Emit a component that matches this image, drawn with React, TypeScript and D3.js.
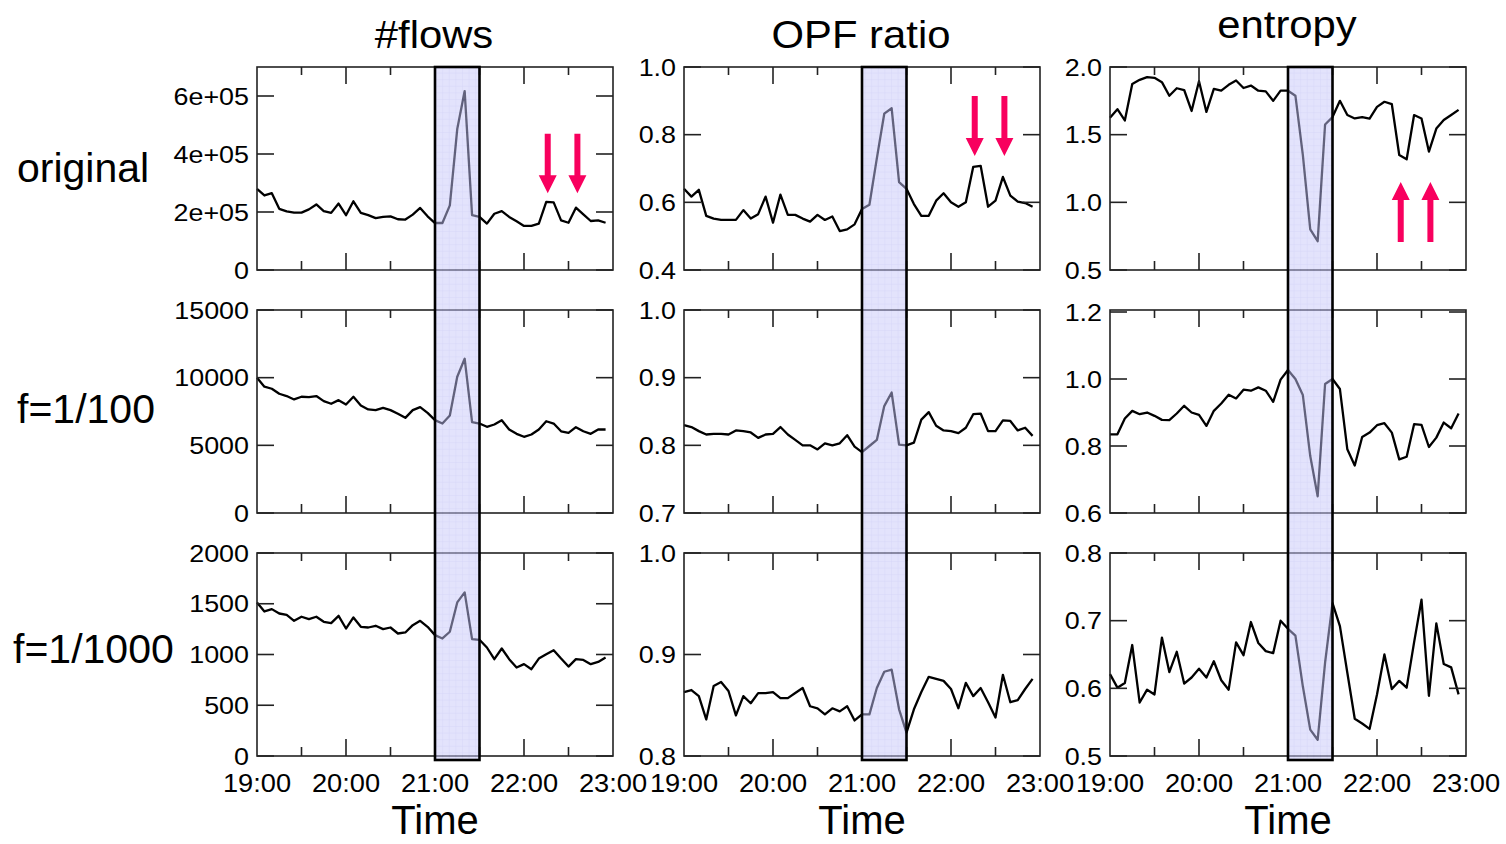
import React from "react";
import * as d3 from "d3";

// ---------- data ----------
const timeLabels = [
  "19:00","19:05","19:10","19:15","19:20","19:25","19:30","19:35","19:40","19:45","19:50","19:55",
  "20:00","20:05","20:10","20:15","20:20","20:25","20:30","20:35","20:40","20:45","20:50","20:55",
  "21:00","21:05","21:10","21:15","21:20","21:25","21:30","21:35","21:40","21:45","21:50","21:55",
  "22:00","22:05","22:10","22:15","22:20","22:25","22:30","22:35","22:40","22:45","22:50","22:55",
];
const xTickLabels = ["19:00", "20:00", "21:00", "22:00", "23:00"];
const xMinorTicks = ["19:30", "20:30", "21:30", "22:30"];
const colTitles = ["#flows", "OPF ratio", "entropy"];
const rowTitles = ["original", "f=1/100", "f=1/1000"];
const highlightFrom = "21:00";
const highlightTo = "21:30";
const arrowTimes = ["22:16", "22:36"];

const flowsOriginal = [280000,257000,265000,211000,202000,198000,198000,209000,226000,203000,197000,229000,189000,237000,197000,189000,179000,183000,185000,175000,174000,191000,214000,185000,162000,162000,223000,486000,617000,189000,183000,160000,194000,203000,183000,168000,152000,152000,160000,235000,233000,171000,163000,215000,192000,169000,171000,163000];
const opfOriginal = [0.640,0.617,0.637,0.560,0.552,0.548,0.548,0.548,0.577,0.552,0.565,0.617,0.540,0.623,0.563,0.563,0.552,0.543,0.563,0.548,0.558,0.515,0.520,0.535,0.580,0.593,0.730,0.862,0.878,0.660,0.640,0.595,0.560,0.560,0.605,0.627,0.600,0.587,0.600,0.705,0.708,0.587,0.605,0.675,0.620,0.602,0.598,0.587];
const entropyOriginal = [1.625,1.688,1.605,1.875,1.905,1.925,1.920,1.888,1.788,1.843,1.830,1.675,1.895,1.668,1.838,1.825,1.868,1.900,1.845,1.863,1.825,1.820,1.750,1.825,1.825,1.788,1.350,0.800,0.713,1.575,1.630,1.750,1.645,1.620,1.630,1.618,1.705,1.743,1.725,1.350,1.318,1.645,1.620,1.375,1.545,1.608,1.645,1.683];

const flows100 = [9990,9330,9180,8810,8640,8390,8590,8560,8640,8270,8070,8340,8020,8590,7940,7650,7600,7770,7600,7330,7030,7600,7820,7400,6860,6610,7200,10070,11400,6710,6610,6370,6540,6860,6170,5850,5630,5800,6170,6780,6610,6040,5920,6340,6040,5850,6170,6170];
const opf100 = [0.830,0.827,0.821,0.816,0.817,0.817,0.816,0.822,0.821,0.819,0.811,0.816,0.817,0.827,0.816,0.808,0.800,0.800,0.794,0.803,0.800,0.803,0.815,0.798,0.790,0.799,0.808,0.858,0.878,0.801,0.800,0.804,0.838,0.849,0.829,0.822,0.821,0.818,0.826,0.846,0.847,0.821,0.821,0.837,0.836,0.822,0.826,0.814];
const entropy100 = [0.835,0.835,0.882,0.905,0.895,0.900,0.890,0.878,0.877,0.897,0.920,0.900,0.893,0.860,0.905,0.927,0.953,0.942,0.968,0.965,0.975,0.965,0.932,0.998,1.027,1.000,0.952,0.770,0.650,0.985,1.000,0.970,0.790,0.742,0.827,0.840,0.862,0.868,0.840,0.760,0.768,0.865,0.863,0.797,0.825,0.870,0.853,0.897];

const flows1000 = [1513,1424,1447,1404,1391,1332,1372,1348,1372,1322,1309,1381,1256,1365,1273,1266,1283,1250,1266,1207,1217,1289,1332,1273,1191,1158,1224,1513,1612,1151,1145,1069,954,1059,954,872,905,855,960,1003,1043,960,881,954,947,905,927,970];
const opf1000 = [0.863,0.865,0.859,0.836,0.869,0.873,0.864,0.840,0.859,0.852,0.862,0.862,0.863,0.857,0.857,0.862,0.867,0.849,0.847,0.841,0.847,0.844,0.849,0.835,0.841,0.841,0.867,0.883,0.885,0.846,0.823,0.846,0.863,0.878,0.876,0.874,0.866,0.847,0.872,0.859,0.867,0.853,0.838,0.880,0.853,0.855,0.866,0.876];
const entropy1000 = [0.621,0.601,0.608,0.664,0.579,0.598,0.591,0.675,0.624,0.654,0.607,0.616,0.629,0.616,0.640,0.612,0.598,0.668,0.649,0.698,0.667,0.655,0.652,0.700,0.688,0.678,0.603,0.539,0.524,0.638,0.726,0.692,0.623,0.555,0.548,0.540,0.591,0.650,0.599,0.611,0.601,0.668,0.731,0.589,0.696,0.636,0.631,0.591];

const flowsOrigTicks = [0, 200000, 400000, 600000];
const flowsOrigTickLabels = ["0", "2e+05", "4e+05", "6e+05"];
const opfOrigTicks = [0.4, 0.6, 0.8, 1.0];
const opfOrigTickLabels = ["0.4", "0.6", "0.8", "1.0"];
const entropyOrigTicks = [0.5, 1.0, 1.5, 2.0];
const entropyOrigTickLabels = ["0.5", "1.0", "1.5", "2.0"];
const flows100Ticks = [0, 5000, 10000, 15000];
const flows100TickLabels = ["0", "5000", "10000", "15000"];
const opf100Ticks = [0.7, 0.8, 0.9, 1.0];
const opf100TickLabels = ["0.7", "0.8", "0.9", "1.0"];
const entropy100Ticks = [0.6, 0.8, 1.0, 1.2];
const entropy100TickLabels = ["0.6", "0.8", "1.0", "1.2"];
const flows1000Ticks = [0, 500, 1000, 1500, 2000];
const flows1000TickLabels = ["0", "500", "1000", "1500", "2000"];
const opf1000Ticks = [0.8, 0.9, 1.0];
const opf1000TickLabels = ["0.8", "0.9", "1.0"];
const entropy1000Ticks = [0.5, 0.6, 0.7, 0.8];
const entropy1000TickLabels = ["0.5", "0.6", "0.7", "0.8"];

// arrow annotations: [tail value, tip value] per top-row panel
const flowsArrow = [470000, 265000];
const opfArrow = [0.914, 0.737];
const entropyArrow = [0.707, 1.15];

// ---------- layout ----------
const W = 1506;
const H = 844;
const colLeft = [257, 684, 1110];
const plotW = 356;
const rowTop = [67, 310, 553];
const plotH = 203;
const FONT = "'Liberation Sans', Arial, Helvetica, sans-serif";
const PINK = "#f8005e";

const toHours = (s: string) => {
  const [h, m] = s.split(":").map(Number);
  return h + m / 60;
};

type Panel = {
  data: number[];
  domain: [number, number];
  ticks: number[];
  labels: string[];
  arrow?: number[];
};

const panels: Panel[][] = [
  [
    { data: flowsOriginal, domain: [0, 700000], ticks: flowsOrigTicks, labels: flowsOrigTickLabels, arrow: flowsArrow },
    { data: opfOriginal, domain: [0.4, 1.0], ticks: opfOrigTicks, labels: opfOrigTickLabels, arrow: opfArrow },
    { data: entropyOriginal, domain: [0.5, 2.0], ticks: entropyOrigTicks, labels: entropyOrigTickLabels, arrow: entropyArrow },
  ],
  [
    { data: flows100, domain: [0, 15000], ticks: flows100Ticks, labels: flows100TickLabels },
    { data: opf100, domain: [0.7, 1.0], ticks: opf100Ticks, labels: opf100TickLabels },
    { data: entropy100, domain: [0.6, 1.206], ticks: entropy100Ticks, labels: entropy100TickLabels },
  ],
  [
    { data: flows1000, domain: [0, 2000], ticks: flows1000Ticks, labels: flows1000TickLabels },
    { data: opf1000, domain: [0.8, 1.0], ticks: opf1000Ticks, labels: opf1000TickLabels },
    { data: entropy1000, domain: [0.5, 0.8], ticks: entropy1000Ticks, labels: entropy1000TickLabels },
  ],
];

const titleBaselines = [48, 48, 38];
const rowLabelPos = [
  { x: 17, y: 182 },
  { x: 17, y: 423 },
  { x: 13, y: 663 },
];

function arrowPath(x: number, yTail: number, yTip: number) {
  const dir = yTip > yTail ? 1 : -1;
  const head = 18;
  const hw = 9;
  const sw = 3;
  const yb = yTip - dir * head;
  return `M${x - sw},${yTail}L${x + sw},${yTail}L${x + sw},${yb}L${x + hw},${yb}L${x},${yTip}L${x - hw},${yb}L${x - sw},${yb}Z`;
}

function PanelView({ p, r, c }: { p: Panel; r: number; c: number }) {
  const x0 = colLeft[c];
  const y0 = rowTop[r];
  const xs = d3.scaleLinear().domain([19, 23]).range([x0, x0 + plotW]);
  const ys = d3.scaleLinear().domain(p.domain).range([y0 + plotH, y0]);
  const line = d3
    .line<number>()
    .x((_, i) => xs(toHours(timeLabels[i])))
    .y((d) => ys(d));
  const major = xTickLabels.slice(1, -1).map(toHours);
  const minor = xMinorTicks.map(toHours);
  const stroke = "#222";
  return (
    <g>
      <path d={line(p.data) || ""} fill="none" stroke="#000" strokeWidth={2.3} strokeLinejoin="round" />
      <rect x={x0} y={y0} width={plotW} height={plotH} fill="none" stroke={stroke} strokeWidth={1.6} />
      {p.ticks.map((t, i) => (
        <g key={"yt" + i}>
          <line x1={x0} x2={x0 + 17} y1={ys(t)} y2={ys(t)} stroke={stroke} strokeWidth={1.6} />
          <line x1={x0 + plotW - 17} x2={x0 + plotW} y1={ys(t)} y2={ys(t)} stroke={stroke} strokeWidth={1.6} />
          <text
            transform={`translate(${x0 - 8},${ys(t) + 8.5}) scale(1.12,1)`}
            textAnchor="end"
            fontSize={24}
            fontFamily={FONT}
            fill="#000"
          >
            {p.labels[i]}
          </text>
        </g>
      ))}
      {major.map((t, i) => (
        <g key={"mj" + i}>
          <line x1={xs(t)} x2={xs(t)} y1={y0} y2={y0 + 17} stroke={stroke} strokeWidth={1.6} />
          <line x1={xs(t)} x2={xs(t)} y1={y0 + plotH - 17} y2={y0 + plotH} stroke={stroke} strokeWidth={1.6} />
        </g>
      ))}
      {minor.map((t, i) => (
        <g key={"mn" + i}>
          <line x1={xs(t)} x2={xs(t)} y1={y0} y2={y0 + 8} stroke={stroke} strokeWidth={1.6} />
          <line x1={xs(t)} x2={xs(t)} y1={y0 + plotH - 9} y2={y0 + plotH} stroke={stroke} strokeWidth={1.6} />
        </g>
      ))}
      {r === 2 &&
        xTickLabels.map((l, i) => (
          <text
            key={"xl" + i}
            transform={`translate(${xs(toHours(l))},792) scale(1.09,1)`}
            textAnchor="middle"
            fontSize={25}
            fontFamily={FONT}
            fill="#000"
          >
            {l}
          </text>
        ))}
    </g>
  );
}

function Overlay({ c }: { c: number }) {
  const x0 = colLeft[c];
  const xs = d3.scaleLinear().domain([19, 23]).range([x0, x0 + plotW]);
  const xa = xs(toHours(highlightFrom));
  const xb = xs(toHours(highlightTo));
  const top = rowTop[0];
  const bottom = rowTop[2] + plotH + 4;
  return (
    <g>
      <rect x={xa} y={top} width={xb - xa} height={bottom - top} fill="url(#hlgrid)" opacity={0.5} />
      <rect x={xa} y={top} width={xb - xa} height={bottom - top} fill="none" stroke="#000" strokeWidth={2.6} />
    </g>
  );
}

function Arrows({ c }: { c: number }) {
  const p = panels[0][c];
  if (!p.arrow) return null;
  const x0 = colLeft[c];
  const xs = d3.scaleLinear().domain([19, 23]).range([x0, x0 + plotW]);
  const ys = d3.scaleLinear().domain(p.domain).range([rowTop[0] + plotH, rowTop[0]]);
  return (
    <g>
      {arrowTimes.map((t, i) => (
        <path key={i} d={arrowPath(xs(toHours(t)), ys(p.arrow![0]), ys(p.arrow![1]))} fill={PINK} />
      ))}
    </g>
  );
}

export default function App() {
  return (
    <svg
      width={W}
      height={H}
      viewBox={`0 0 ${W} ${H}`}
      style={{ position: "absolute", left: 0, top: 0, display: "block", background: "#fff" }}
    >
      <defs>
        <pattern id="hlgrid" width={6.6} height={6.6} patternUnits="userSpaceOnUse">
          <rect width={6.6} height={6.6} fill="#c6c6f9" />
          <path d="M6.6,0L0,0L0,6.6" fill="none" stroke="#a9a9ee" strokeWidth={0.8} />
        </pattern>
      </defs>
      <rect width={W} height={H} fill="#fff" />
      {panels.map((row, r) => row.map((p, c) => <PanelView key={`${r}-${c}`} p={p} r={r} c={c} />))}
      {colTitles.map((t, c) => (
        <text
          key={"ct" + c}
          transform={`translate(${colLeft[c] + plotW / 2 - 1},${titleBaselines[c]}) scale(1.1,1)`}
          textAnchor="middle"
          fontSize={38}
          fontFamily={FONT}
          fill="#000"
        >
          {t}
        </text>
      ))}
      {rowTitles.map((t, r) => (
        <text key={"rt" + r} x={rowLabelPos[r].x} y={rowLabelPos[r].y} fontSize={41} fontFamily={FONT} fill="#000">
          {t}
        </text>
      ))}
      {colTitles.map((_, c) => (
        <text
          key={"tm" + c}
          x={colLeft[c] + plotW / 2}
          y={834}
          textAnchor="middle"
          fontSize={40}
          fontFamily={FONT}
          fill="#000"
        >
          Time
        </text>
      ))}
      {colTitles.map((_, c) => (
        <Overlay key={"ov" + c} c={c} />
      ))}
      {colTitles.map((_, c) => (
        <Arrows key={"ar" + c} c={c} />
      ))}
    </svg>
  );
}
